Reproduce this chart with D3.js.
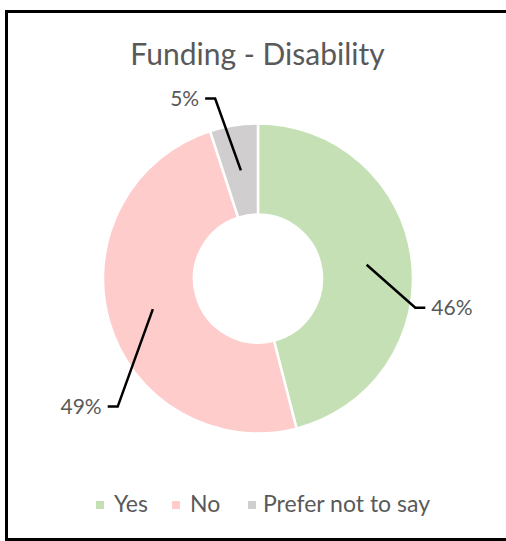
<!DOCTYPE html>
<html>
<head>
<meta charset="utf-8">
<script src="https://cdn.jsdelivr.net/npm/d3@7"></script>
<style>
  html, body { margin: 0; padding: 0; background: #fff; overflow: hidden; }
  svg { display: block; overflow: hidden; }
  text { font-family: Lato, "Open Sans", sans-serif; fill: #595959; }
</style>
</head>
<body>
<svg id="chart" width="506" height="541"></svg>
<script>
// Survey answers: share of respondents per answer (percent)
const categories = ["Yes", "No", "Prefer not to say"];
const values = [46, 49, 5];
const valueLabels = ["46%", "49%", "5%"];
const colors = ["#c5e0b4", "#ffcccc", "#d0cece"];
const title = "Funding - Disability";

// Leader-line elbow for each label: angle (deg, clockwise from top) and radius
const labelElbowAngle = [100.5, 227.6, 346.6];
const labelElbowRadius = [160, 190, 185];
const labelSide = [1, -1, -1];

const W = 506, H = 541;
const cx = 258, cy = 278.5, rOuter = 155, rInner = 64;

const svg = d3.select("#chart");

// chart frame (its right edge runs past the page)
svg.append("path")
  .attr("d", `M${W + 20},11.5H6.5V539.5H${W + 20}`)
  .attr("fill", "#fff").attr("stroke", "#000").attr("stroke-width", 3);

svg.append("text")
  .attr("x", 257.5).attr("y", 65)
  .attr("text-anchor", "middle")
  .attr("font-size", 30)
  .text(title);

const data = categories.map((c, i) => ({ cat: c, value: values[i], label: valueLabels[i], i }));

const pie = d3.pie().sort(null).value(d => d.value);
const arcs = pie(data);
const arc = d3.arc().innerRadius(rInner).outerRadius(rOuter);

const g = svg.append("g").attr("transform", `translate(${cx},${cy})`);

g.selectAll("path.slice")
  .data(arcs)
  .join("path")
  .attr("class", "slice")
  .attr("d", arc)
  .attr("fill", d => colors[d.data.i])
  .attr("stroke", "#fff")
  .attr("stroke-width", 2.5);

// leader lines and value labels
const polar = (angDeg, r) => {
  const a = angDeg * Math.PI / 180;
  return [r * Math.sin(a), -r * Math.cos(a)];
};

arcs.forEach(d => {
  const i = d.data.i;
  const [sx, sy] = arc.centroid(d);
  const [ex, ey] = polar(labelElbowAngle[i], labelElbowRadius[i]);
  const hx = ex + labelSide[i] * 10;
  g.append("path")
    .attr("d", `M${sx},${sy}L${ex},${ey}L${hx},${ey}`)
    .attr("fill", "none")
    .attr("stroke", "#000")
    .attr("stroke-width", 2.5);
  g.append("text")
    .attr("x", hx + labelSide[i] * 6)
    .attr("y", ey)
    .attr("dy", "0.35em")
    .attr("text-anchor", labelSide[i] > 0 ? "start" : "end")
    .attr("font-size", 21)
    .text(d.data.label);
});

// legend
const legend = svg.append("g").attr("transform", "translate(0,505)");
const legendX = [96, 172, 248];
categories.forEach((c, i) => {
  legend.append("rect")
    .attr("x", legendX[i]).attr("y", -4)
    .attr("width", 8).attr("height", 8)
    .attr("fill", colors[i]);
  legend.append("text")
    .attr("x", legendX[i] + (i === 2 ? 15 : 18)).attr("y", 7)
    .attr("font-size", 23)
    .text(c);
});
</script>
</body>
</html>
